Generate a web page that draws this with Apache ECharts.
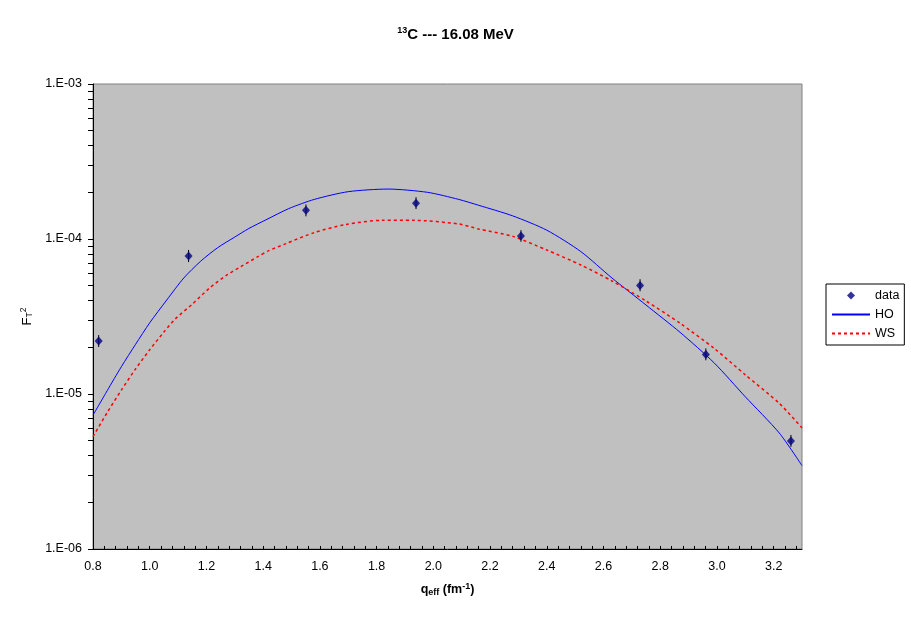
<!DOCTYPE html>
<html><head><meta charset="utf-8">
<script src="https://cdn.jsdelivr.net/npm/echarts@6/dist/echarts.min.js"></script>
<style>html,body{margin:0;padding:0;background:#fff}#c{width:911px;height:623px}</style>
</head><body><div id="c"></div>
<script>
// measured data (q_eff in fm^-1, F_T^2)
const dataQ    = [0.820, 1.137, 1.551, 1.939, 2.309, 2.729, 2.961, 3.261];
const dataF2   = [2.20e-5, 7.76e-5, 1.53e-4, 1.70e-4, 1.045e-4, 5.02e-5, 1.80e-5, 4.98e-6];
const dataLow  = [2.01e-5, 7.10e-5, 1.40e-4, 1.56e-4, 9.60e-5, 4.60e-5, 1.65e-5, 4.56e-6];
const dataHigh = [2.40e-5, 8.50e-5, 1.67e-4, 1.86e-4, 1.14e-4, 5.50e-5, 1.97e-5, 5.44e-6];

// HO curve
const hoQ  = [0.80, 0.85, 0.90, 0.95, 1.00, 1.06, 1.12, 1.18, 1.24, 1.30, 1.35, 1.41, 1.49, 1.58, 1.70, 1.84, 1.98, 2.09, 2.16, 2.28, 2.40, 2.52, 2.63, 2.75, 2.87, 2.99, 3.10, 3.22, 3.30];
const hoF2 = [7.3e-6, 1.05e-5, 1.50e-5, 2.09e-5, 2.88e-5, 4.04e-5, 5.6e-5, 7.2e-5, 8.8e-5, 1.03e-4, 1.17e-4, 1.33e-4, 1.57e-4, 1.80e-4, 2.02e-4, 2.10e-4, 2.00e-4, 1.80e-4, 1.65e-4, 1.41e-4, 1.14e-4, 8.3e-5, 5.6e-5, 3.75e-5, 2.5e-5, 1.59e-5, 9.6e-6, 5.6e-6, 3.45e-6];

// WS curve
const wsQ  = [0.80, 0.85, 0.90, 0.95, 1.00, 1.05, 1.09, 1.15, 1.21, 1.27, 1.32, 1.38, 1.42, 1.48, 1.58, 1.69, 1.82, 1.93, 2.09, 2.16, 2.28, 2.40, 2.52, 2.63, 2.75, 2.87, 2.99, 3.10, 3.22, 3.30];
const wsF2 = [5.31e-6, 7.59e-6, 1.06e-5, 1.45e-5, 1.93e-5, 2.51e-5, 3.05e-5, 3.80e-5, 4.81e-5, 5.82e-5, 6.61e-5, 7.67e-5, 8.41e-5, 9.33e-5, 1.10e-4, 1.24e-4, 1.32e-4, 1.32e-4, 1.25e-4, 1.16e-4, 1.04e-4, 8.49e-5, 6.80e-5, 5.36e-5, 3.98e-5, 2.86e-5, 1.97e-5, 1.33e-5, 8.7e-6, 6.04e-6];

// axis ticks
const xTickValues = [0.8,0.84,0.88,0.92,0.96,1.0,1.04,1.08,1.12,1.16,1.2,1.24,1.28,1.32,1.36,1.4,1.44,1.48,1.52,1.56,1.6,1.64,1.68,1.72,1.76,1.8,1.84,1.88,1.92,1.96,2.0,2.04,2.08,2.12,2.16,2.2,2.24,2.28,2.32,2.36,2.4,2.44,2.48,2.52,2.56,2.6,2.64,2.68,2.72,2.76,2.8,2.84,2.88,2.92,2.96,3.0,3.04,3.08,3.12,3.16,3.2,3.24,3.28];
const xLabelValues = [0.8,1.0,1.2,1.4,1.6,1.8,2.0,2.2,2.4,2.6,2.8,3.0,3.2];
const yTickValues = [1e-6,2e-6,3e-6,4e-6,5e-6,6e-6,7e-6,8e-6,9e-6,1e-5,2e-5,3e-5,4e-5,5e-5,6e-5,7e-5,8e-5,9e-5,1e-4,2e-4,3e-4,4e-4,5e-4,6e-4,7e-4,8e-4,9e-4,1e-3];
const yLabelValues = [1e-6, 1e-5, 1e-4, 1e-3];
const yLabelTexts  = ['1.E-06', '1.E-05', '1.E-04', '1.E-03'];

const FONT = 'Arial, "Liberation Sans", sans-serif';
const chart = echarts.init(document.getElementById('c'), null, {renderer: 'canvas'});

chart.setOption({
  animation: false,
  backgroundColor: '#ffffff',
  textStyle: {fontFamily: FONT, color: '#000'},
  title: {
    text: '{sup|13}{m|C --- 16.08 MeV}',
    left: 'center', top: 21,
    textStyle: {
      rich: {
        sup: {fontFamily: FONT, fontSize: 9, fontWeight: 'bold', color: '#000', padding: [0, 0, 8, 0]},
        m: {fontFamily: FONT, fontSize: 15, fontWeight: 'bold', color: '#000'}
      }
    }
  },
  legend: {
    orient: 'vertical',
    left: 826, top: 284,
    backgroundColor: '#ffffff',
    borderColor: '#000', borderWidth: 1, borderRadius: 0,
    padding: [5, 5, 5, 5],
    itemGap: 6, itemWidth: 38, itemHeight: 8,
    textStyle: {fontFamily: FONT, fontSize: 12.5, color: '#000'},
    data: [
      {name: 'data', icon: 'path://M0,-1L1,0L0,1L-1,0Z'},
      {name: 'HO', itemStyle: {opacity: 0}},
      {name: 'WS', itemStyle: {opacity: 0}}
    ]
  },
  grid: {
    left: 93, top: 84, width: 709, height: 465,
    show: true, backgroundColor: '#c0c0c0', borderColor: '#808080', borderWidth: 1
  },
  xAxis: {
    type: 'value', min: 0.8, max: 3.3, interval: 0.2,
    name: '{b|q}{s|eff}{b| (fm}{p|-1}{b|)}',
    nameLocation: 'middle', nameGap: 33,
    nameTextStyle: {
      rich: {
        b: {fontFamily: FONT, fontSize: 12.5, fontWeight: 'bold', color: '#000'},
        s: {fontFamily: FONT, fontSize: 9, fontWeight: 'bold', color: '#000', padding: [5, 0, 0, 0]},
        p: {fontFamily: FONT, fontSize: 9, fontWeight: 'bold', color: '#000', padding: [0, 0, 7, 0]}
      }
    },
    axisLine: {show: true, lineStyle: {color: '#000', width: 1}},
    axisTick: {show: true, inside: true, length: 3, lineStyle: {color: '#000'}, customValues: xTickValues},
    axisLabel: {
      color: '#000', fontFamily: FONT, fontSize: 12.5, margin: 11,
      customValues: xLabelValues,
      formatter: v => v.toFixed(1)
    },
    splitLine: {show: false}
  },
  yAxis: {
    type: 'log', logBase: 10, min: 1e-6, max: 1e-3,
    name: '{n|F}{s|T}{p|2}',
    nameLocation: 'middle', nameGap: 56,
    nameTextStyle: {
      rich: {
        n: {fontFamily: FONT, fontSize: 13, color: '#000'},
        s: {fontFamily: FONT, fontSize: 8.5, color: '#000', padding: [5, 0, 0, 0]},
        p: {fontFamily: FONT, fontSize: 8.5, color: '#000', padding: [0, 0, 7, 0]}
      }
    },
    axisLine: {show: true, lineStyle: {color: '#000', width: 1}},
    axisTick: {show: true, inside: false, length: 5, lineStyle: {color: '#000'}, customValues: yTickValues},
    axisLabel: {
      color: '#000', fontFamily: FONT, fontSize: 12.5, margin: 11,
      customValues: yLabelValues,
      formatter: v => {
        let best = 0, bd = Infinity;
        yLabelValues.forEach((lv, i) => { const d = Math.abs(Math.log10(v) - Math.log10(lv)); if (d < bd) { bd = d; best = i; } });
        return yLabelTexts[best];
      }
    },
    splitLine: {show: false}
  },
  series: [
    {
      name: 'HO', type: 'line', symbol: 'none', smooth: 0.25, z: 2,
      lineStyle: {color: '#0000ff', width: 1},
      itemStyle: {color: '#0000ff'},
      data: hoQ.map((q, i) => [q, hoF2[i]])
    },
    {
      name: 'WS', type: 'line', symbol: 'none', smooth: 0.25, z: 3,
      lineStyle: {color: '#ff0000', width: 1.5, type: [3, 3]},
      itemStyle: {color: '#ff0000'},
      data: wsQ.map((q, i) => [q, wsF2[i]])
    },
    {
      name: 'errors', type: 'custom', z: 4, silent: true,
      encode: {x: 0, y: [1, 2]},
      renderItem: (params, api) => {
        const x = api.value(0);
        const p1 = api.coord([x, api.value(1)]);
        const p2 = api.coord([x, api.value(2)]);
        return {type: 'line', shape: {x1: p1[0], y1: p1[1], x2: p2[0], y2: p2[1]}, style: {stroke: '#000', lineWidth: 1}};
      },
      data: dataQ.map((q, i) => [q, dataLow[i], dataHigh[i]])
    },
    {
      name: 'data', type: 'scatter', symbol: 'diamond', symbolSize: [8, 9], z: 5,
      itemStyle: {color: '#000080'},
      data: dataQ.map((q, i) => [q, dataF2[i]])
    }
  ]
});
</script>
</body></html>
